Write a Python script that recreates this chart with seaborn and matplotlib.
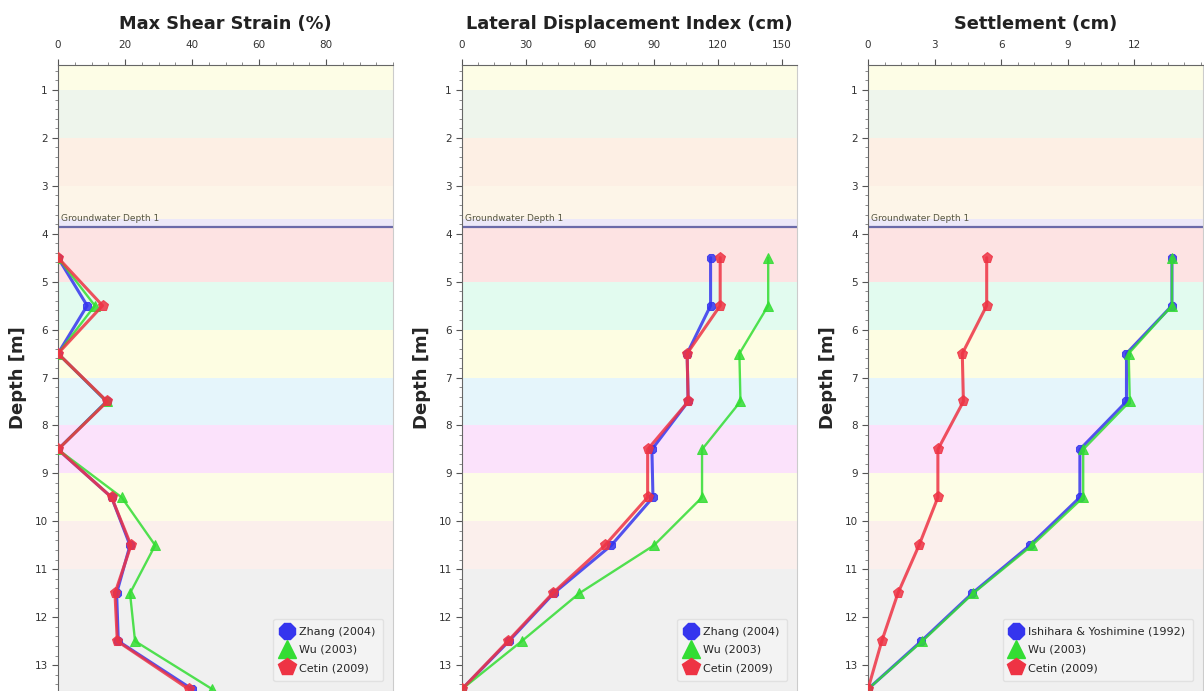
import matplotlib
matplotlib.use("Agg")
import matplotlib.pyplot as plt
import pandas as pd
import seaborn as sns
from matplotlib.lines import Line2D
from matplotlib.ticker import AutoMinorLocator, MultipleLocator

sns.set_style("ticks")
plt.rcParams['font.family'] = ['DejaVu Sans']

# depth of each calculation point (m)
depths = [4.5, 5.5, 6.5, 7.5, 8.5, 9.5, 10.5, 11.5, 12.5, 13.5]

# max shear strain (%)
shear_zhang = [0, 8.7, 0, 14.5, 0, 16, 21.5, 17.5, 18, 40]
shear_wu = [0, 11, 0, 14.5, 0, 19, 29, 21.5, 23, 46]
shear_cetin = [0, 13.3, 0, 14.7, 0, 16, 21.8, 17, 17.7, 39]

# lateral displacement index (cm)
ldi_zhang = [116.5, 116.5, 105.5, 106, 89, 89.5, 70, 43, 22, 0]
ldi_wu = [143.5, 143.5, 130, 130.5, 112.5, 112.5, 90, 55, 28, 0]
ldi_cetin = [121, 121, 105.5, 106, 87, 87, 67, 42.5, 21.5, 0]

# settlement (cm)
set_ishihara = [13.7, 13.7, 11.65, 11.65, 9.55, 9.55, 7.3, 4.7, 2.4, 0]
set_wu = [13.7, 13.7, 11.75, 11.8, 9.7, 9.7, 7.4, 4.75, 2.45, 0]
set_cetin = [5.35, 5.35, 4.25, 4.3, 3.15, 3.15, 2.3, 1.35, 0.62, 0]

# top tick labels per panel
ticks_strain = [0, 20, 40, 60, 80]
ticks_ldi = [0, 30, 60, 90, 120, 150]
ticks_settle = [0, 3, 6, 9, 12]

# soil layers: top, bottom, colour
layer_tops = [0, 1, 2, 3, 3.7, 3.85, 5, 6, 7, 8, 9, 10, 11]
layer_bots = [1, 2, 3, 3.7, 3.85, 5, 6, 7, 8, 9, 10, 11, 14]
layer_cols = ["#fdfde6", "#eef5ec", "#fdefe4", "#fdf5e8", "#ece8f8", "#fde3e3",
              "#e2fbef", "#fdfde2", "#e5f5fb", "#fbe2fb", "#fdfde6", "#fbefec", "#f0f0f0"]
gw_depth = 3.85

BLUE, GREEN, RED = "#3535ee", "#33dd33", "#ee3344"

panels = [
    ("Max Shear Strain (%)", 100, ticks_strain, 5,
     [("Zhang (2004)", shear_zhang, BLUE, "8"),
      ("Wu (2003)", shear_wu, GREEN, "^"),
      ("Cetin (2009)", shear_cetin, RED, "p")]),
    ("Lateral Displacement Index (cm)", 157, ticks_ldi, 7.5,
     [("Zhang (2004)", ldi_zhang, BLUE, "8"),
      ("Wu (2003)", ldi_wu, GREEN, "^"),
      ("Cetin (2009)", ldi_cetin, RED, "p")]),
    ("Settlement (cm)", 15.1, ticks_settle, 0.75,
     [("Ishihara & Yoshimine (1992)", set_ishihara, BLUE, "8"),
      ("Wu (2003)", set_wu, GREEN, "^"),
      ("Cetin (2009)", set_cetin, RED, "p")]),
]

fig = plt.figure(figsize=(12.04, 6.91), dpi=100)
lefts = [58, 462, 868]

for left, (title, xmax, ticks, minor, series) in zip(lefts, panels):
    ax = fig.add_axes([left / 1204, 0, 335 / 1204, 1 - 65 / 691])
    for t, b, c in zip(layer_tops, layer_bots, layer_cols):
        ax.axhspan(t, b, color=c, lw=0, zorder=0)
    ax.axhline(gw_depth, color="#6a6aa8", lw=1.6, zorder=1)
    ax.text(xmax * 0.008, gw_depth - 0.08, "Groundwater Depth 1", fontsize=6.5,
            color="#555540", va="bottom", ha="left")

    handles = []
    for name, vals, col, mk in series:
        df = pd.DataFrame({"depth": depths, "value": vals})
        ms = 8 if mk == "p" else 6.5
        sns.lineplot(data=df, x="value", y="depth", ax=ax, color=col, marker=mk,
                     markersize=ms, markeredgecolor=col, lw=2.2 if col != GREEN else 1.7,
                     sort=False, orient="y", estimator=None, alpha=0.85, zorder=3)
        handles.append(Line2D([], [], ls="none", marker=mk, color=col, markersize=13,
                              markeredgecolor=col, label=name))

    ax.set_xlim(0, xmax)
    ax.set_ylim(13.54, 0.48)
    ax.xaxis.tick_top()
    ax.set_xticks(ticks)
    ax.xaxis.set_minor_locator(MultipleLocator(minor))
    ax.yaxis.set_major_locator(MultipleLocator(1))
    ax.yaxis.set_minor_locator(AutoMinorLocator(5))
    ax.tick_params(axis="x", which="major", pad=7)
    ax.tick_params(axis="both", which="major", labelsize=7.5, length=4, color="#555555",
                   labelcolor="#333333")
    ax.tick_params(axis="both", which="minor", length=2, color="#777777")
    ax.set_xlabel("")
    ax.set_ylabel("Depth [m]", fontsize=13, fontweight="bold", labelpad=5)
    ax.set_title(title, fontsize=12.8, fontweight="bold", pad=26, color="#222222")
    for s in ["left", "top"]:
        ax.spines[s].set_color("#666666")
    for s in ["right", "bottom"]:
        ax.spines[s].set_color("#cccccc")
    leg = ax.legend(handles=handles, loc="lower right", fontsize=8, frameon=True,
                    handlelength=1.0, handletextpad=0.6, borderpad=0.7, labelspacing=0.75,
                    borderaxespad=0.9)
    leg.get_frame().set_facecolor("#f4f4f4")
    leg.get_frame().set_edgecolor("#dddddd")

fig.savefig("out.png", dpi=100)
